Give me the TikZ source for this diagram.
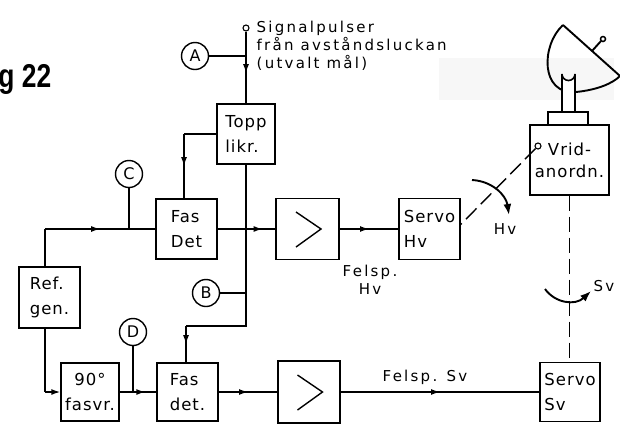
\documentclass[tikz,border=0pt]{standalone}
\usepackage{fontspec}
\setmainfont{DejaVu Sans}
\newfontfamily\lettering[LetterSpace=15]{DejaVu Sans}
\newfontfamily\blkfont[LetterSpace=6]{DejaVu Sans}
\newfontfamily\figfont{Liberation Sans}
\usetikzlibrary{arrows.meta,decorations.markings,calc}

\begin{document}
\begin{tikzpicture}[x=1bp,y=-1bp,
  line width=1.4bp,
  every node/.style={inner sep=0pt},
  lbl/.style={font=\lettering\fontsize{15bp}{18bp}\selectfont},
  blk/.style={draw, line width=1.4bp, font=\blkfont\fontsize{16.5bp}{25bp}\selectfont, align=left},
  amp/.style={draw, line width=1.4bp},
  tag/.style={draw, circle, line width=1.4bp, minimum size=27bp, font=\blkfont\fontsize{16bp}{16bp}\selectfont},
  term/.style={draw, circle, minimum size=6bp, line width=1.1bp, fill=white},
  mech/.style={dash pattern=on 15bp off 6bp, line width=1.4bp},
  rot/.style={line width=1.9bp, -{Latex[length=11bp,width=8bp]}},
  marrow/.style={postaction={decorate}, decoration={markings, mark=at position #1 with {\arrow{Latex[length=9bp,width=6bp]}}}},
]
\useasboundingbox (0,0) rectangle (620,427);

% faint band behind the antenna
\fill[gray!6] (439,58) rectangle (614,100);

% figure number
\node[anchor=base east, font=\figfont\bfseries\fontsize{33bp}{33bp}\selectfont] (fig) at (52,87) {\scalebox{0.8}[1]{g 22}};

% input terminal and its caption
\node[term] (sig) at (246,28) {};
\node[lbl, anchor=west, align=left] (sigtxt) at (256,46) {Signalpulser\\från avståndsluckan\\(utvalt mål)};

% blocks
\node[blk, minimum width=58bp, minimum height=60bp] (topp) at (246,134) {Topp\\likr.};
\node[blk, minimum width=61bp, minimum height=60bp] (fd1) at (186.5,229) {Fas\\Det};
\node[amp, minimum width=63bp, minimum height=61bp] (amp1) at (307.5,229) {};
\node[blk, minimum width=61bp, minimum height=61bp] (shv) at (429.5,229) {Servo\\Hv};
\node[blk, minimum width=61bp, minimum height=61bp] (ref) at (49.5,297.5) {Ref.\\gen.};
\node[blk, align=center, minimum width=58bp, minimum height=58bp] (fsv) at (90,392) {90°\\fasvr.};
\node[blk, minimum width=61bp, minimum height=58bp] (fd2) at (187.5,392) {Fas\\det.};
\node[amp, minimum width=62bp, minimum height=62bp] (amp2) at (309,392) {};
\node[blk, minimum width=60bp, minimum height=59bp] (ssv) at (570,392) {Servo\\Sv};
\node[blk, align=center, minimum width=79bp, minimum height=70bp, font=\blkfont\fontsize{16.5bp}{22bp}\selectfont] (vrid) at (569.5,160) {Vrid-\\anordn.};

% amplifier symbols
\foreach \a in {amp1,amp2}
  \draw ($(\a.center)+(-11.5,-17)$) -- ($(\a.center)+(13.5,0)$) -- ($(\a.center)+(-11.5,18)$);

% measuring points
\node[tag] (cA) at (195,56) {A};
\node[tag] (cB) at (206,293) {B};
\node[tag] (cC) at (129,174) {C};
\node[tag] (cD) at (133,332) {D};

% signal path
\draw[marrow=0.58] (sig.south) -- (topp.north);
\draw (cA.east) -- (cA -| sig);
\coordinate (tk) at (184,134);
\draw (topp.west) -- (tk);
\draw[marrow=0.5] (tk) -- (tk |- fd1.north);
\coordinate (rt) at (45,229);
\draw (ref.north -| rt) -- (rt);
\draw[marrow=0.5] (rt) -- (fd1.west);
\draw (cC.south) -- (cC |- fd1.west);
\draw[marrow=0.78] (fd1.east) -- (amp1.west);
\draw[marrow=0.5] (amp1.east) -- (shv.west);
\coordinate (bk) at (186,326);
\draw (topp.south) |- (bk);
\draw[marrow=0.5] (bk) -- (bk |- fd2.north);
\draw (cB.east) -- (cB -| topp.south);
\coordinate (rb) at (45,392);
\draw (ref.south -| rb) -- (rb);
\draw[-{Latex[length=9bp,width=6bp]}] (rb) -- (fsv.west);
\draw[marrow=0.7] (fsv.east) -- (fd2.west);
\draw (cD.south) -- (cD |- fsv.east);
\draw[marrow=0.5] (fd2.east) -- (amp2.west);
\draw[marrow=0.5] (amp2.east) -- (ssv.west);

% error signal labels
\node[lbl, align=center] (fhv) at (370,280) {Felsp.\\Hv};
\node[lbl] (fsvl) at (425,377) {Felsp. Sv};

% antenna dish, stem and pedestal
\draw[line width=1.9bp] (563,25) -- (620,76);
\draw[line width=1.9bp] (563,25) .. controls (541,45) and (540,95) .. (576,92) .. controls (596,90) and (612,84) .. (620,76);
\draw[line width=1.9bp] (592,51) -- (601,41);
\draw[line width=1.5bp, fill=white] (603,39) circle (2.5bp);
\draw[line width=1.6bp, fill=white] (562,112) -- (562,74) arc[start angle=180, end angle=360, radius=6.5bp] -- (575,112);
\draw[line width=1.6bp, fill=white] (548,112) rectangle (588,125);

% mechanical links
\node[term] (vc) at (538,146) {};
\draw[mech] (vc) -- ($(shv.east)+(0,-4.5)$);
\draw[mech] (vrid.south) -- (vrid.south |- ssv.north);

% rotation directions
\draw[rot] (472,180) .. controls (492,181) and (506,195) .. (509,215);
\node[lbl] (hvl) at (505,229) {Hv};
\draw[rot] (545,289) .. controls (555,303) and (575,306) .. (591,291);
\node[lbl] (svl) at (604,286) {Sv};
\end{tikzpicture}
\end{document}
